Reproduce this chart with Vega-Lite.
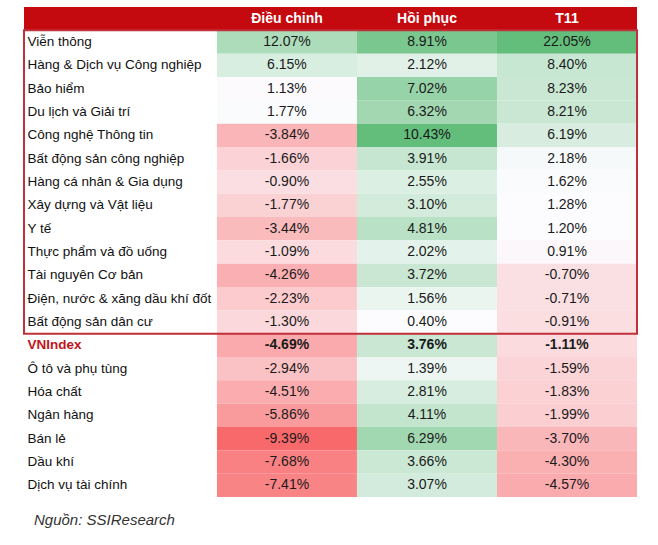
{
  "$schema": "https://vega.github.io/schema/vega-lite/v6.json",
  "width": 613,
  "height": 490,
  "autosize": {"type": "none"},
  "padding": {"left": 24, "top": 7, "right": 21, "bottom": 48},
  "background": "white",
  "title": {
    "text": "Nguồn: SSIResearch",
    "orient": "bottom",
    "anchor": "start",
    "offset": 16,
    "dx": 11,
    "font": "Liberation Sans",
    "fontSize": 15,
    "fontStyle": "italic",
    "fontWeight": "normal",
    "color": "#333333"
  },
  "data": {
    "values": [
      {"sector": "Viễn thông", "Điều chỉnh": 12.07, "Hồi phục": 8.91, "T11": 22.05},
      {"sector": "Hàng & Dịch vụ Công nghiệp", "Điều chỉnh": 6.15, "Hồi phục": 2.12, "T11": 8.40},
      {"sector": "Bảo hiểm", "Điều chỉnh": 1.13, "Hồi phục": 7.02, "T11": 8.23},
      {"sector": "Du lịch và Giải trí", "Điều chỉnh": 1.77, "Hồi phục": 6.32, "T11": 8.21},
      {"sector": "Công nghệ Thông tin", "Điều chỉnh": -3.84, "Hồi phục": 10.43, "T11": 6.19},
      {"sector": "Bất động sản công nghiệp", "Điều chỉnh": -1.66, "Hồi phục": 3.91, "T11": 2.18},
      {"sector": "Hàng cá nhân & Gia dụng", "Điều chỉnh": -0.90, "Hồi phục": 2.55, "T11": 1.62},
      {"sector": "Xây dựng và Vật liệu", "Điều chỉnh": -1.77, "Hồi phục": 3.10, "T11": 1.28},
      {"sector": "Y tế", "Điều chỉnh": -3.44, "Hồi phục": 4.81, "T11": 1.20},
      {"sector": "Thực phẩm và đồ uống", "Điều chỉnh": -1.09, "Hồi phục": 2.02, "T11": 0.91},
      {"sector": "Tài nguyên Cơ bản", "Điều chỉnh": -4.26, "Hồi phục": 3.72, "T11": -0.70},
      {"sector": "Điện, nước & xăng dầu khí đốt", "Điều chỉnh": -2.23, "Hồi phục": 1.56, "T11": -0.71},
      {"sector": "Bất động sản dân cư", "Điều chỉnh": -1.30, "Hồi phục": 0.40, "T11": -0.91},
      {"sector": "VNIndex", "Điều chỉnh": -4.69, "Hồi phục": 3.76, "T11": -1.11},
      {"sector": "Ô tô và phụ tùng", "Điều chỉnh": -2.94, "Hồi phục": 1.39, "T11": -1.59},
      {"sector": "Hóa chất", "Điều chỉnh": -4.51, "Hồi phục": 2.81, "T11": -1.83},
      {"sector": "Ngân hàng", "Điều chỉnh": -5.86, "Hồi phục": 4.11, "T11": -1.99},
      {"sector": "Bán lẻ", "Điều chỉnh": -9.39, "Hồi phục": 6.29, "T11": -3.70},
      {"sector": "Dầu khí", "Điều chỉnh": -7.68, "Hồi phục": 3.66, "T11": -4.30},
      {"sector": "Dịch vụ tài chính", "Điều chỉnh": -7.41, "Hồi phục": 3.07, "T11": -4.57}
    ]
  },
  "transform": [
    {"fold": ["Điều chỉnh", "Hồi phục", "T11"], "as": ["col", "v"]},
    {"calculate": "(datum.v < 0 ? '-' : '') + format(abs(datum.v), '.2f') + '%'", "as": "label"}
  ],
  "layer": [
    {
      "mark": {"type": "rect", "color": "#c40a0f"},
      "encoding": {
        "y": {
          "datum": "header",
          "type": "nominal",
          "scale": {
            "domain": ["header", "Viễn thông", "Hàng & Dịch vụ Công nghiệp", "Bảo hiểm", "Du lịch và Giải trí", "Công nghệ Thông tin", "Bất động sản công nghiệp", "Hàng cá nhân & Gia dụng", "Xây dựng và Vật liệu", "Y tế", "Thực phẩm và đồ uống", "Tài nguyên Cơ bản", "Điện, nước & xăng dầu khí đốt", "Bất động sản dân cư", "VNIndex", "Ô tô và phụ tùng", "Hóa chất", "Ngân hàng", "Bán lẻ", "Dầu khí", "Dịch vụ tài chính"],
            "paddingInner": 0,
            "paddingOuter": 0
          },
          "axis": {
            "labelExpr": "datum.value == 'header' ? '' : datum.value",
            "labelColor": {"condition": {"test": "datum.value == 'VNIndex'", "value": "#c0151b"}, "value": "#111111"},
            "labelFontWeight": {"condition": {"test": "datum.value == 'VNIndex'", "value": "bold"}, "value": "normal"}
          }
        }
      }
    },
    {
      "transform": [{"filter": "datum.col != 'Hồi phục'"}],
      "mark": {"type": "rect"},
      "encoding": {
        "x": {
          "field": "col",
          "type": "nominal",
          "sort": null,
          "scale": {"domain": ["Điều chỉnh", "Hồi phục", "T11"], "paddingInner": 0, "paddingOuter": 0.689, "align": 1},
          "axis": null
        },
        "y": {"field": "sector", "type": "nominal"},
        "color": {
          "field": "v",
          "type": "quantitative",
          "scale": {"domain": [-9.39, 1.3, 22.05], "range": ["#f8696b", "#fcfcff", "#63be7b"], "interpolate": "rgb"},
          "legend": null
        }
      }
    },
    {
      "transform": [{"filter": "datum.col == 'Hồi phục'"}],
      "mark": {"type": "rect"},
      "encoding": {
        "x": {"field": "col", "type": "nominal", "axis": null},
        "y": {"field": "sector", "type": "nominal"},
        "color": {
          "field": "v",
          "type": "quantitative",
          "scale": {"domain": [0.4, 10.43], "range": ["#fcfcff", "#63be7b"], "interpolate": "rgb"},
          "legend": null
        }
      }
    },
    {
      "data": {"values": [{"col": "Điều chỉnh"}, {"col": "Hồi phục"}, {"col": "T11"}]},
      "mark": {"type": "text", "color": "white", "font": "Liberation Sans", "fontSize": 14, "fontWeight": "bold"},
      "encoding": {
        "x": {"field": "col", "type": "nominal", "axis": null},
        "y": {"datum": "header", "type": "nominal"},
        "text": {"field": "col"}
      }
    },
    {
      "transform": [{"filter": "datum.sector != 'VNIndex'"}],
      "mark": {"type": "text", "color": "#1a1a1a", "font": "Liberation Sans", "fontSize": 14},
      "encoding": {
        "x": {"field": "col", "type": "nominal", "axis": null},
        "y": {"field": "sector", "type": "nominal"},
        "text": {"field": "label"}
      }
    },
    {
      "transform": [{"filter": "datum.sector == 'VNIndex'"}],
      "mark": {"type": "text", "color": "#1a1a1a", "font": "Liberation Sans", "fontSize": 14, "fontWeight": "bold"},
      "encoding": {
        "x": {"field": "col", "type": "nominal", "axis": null},
        "y": {"field": "sector", "type": "nominal"},
        "text": {"field": "label"}
      }
    },
    {
      "data": {"values": [{"top": "Viễn thông", "bottom": "Bất động sản dân cư"}]},
      "mark": {"type": "rect", "fill": null, "stroke": "#c0303a", "strokeWidth": 2},
      "encoding": {
        "y": {"field": "top", "type": "nominal", "bandPosition": 0},
        "y2": {"field": "bottom", "bandPosition": 1}
      }
    }
  ],
  "resolve": {"scale": {"color": "independent"}},
  "config": {
    "view": {"stroke": null},
    "axisY": {
      "title": null,
      "domain": false,
      "ticks": false,
      "grid": false,
      "zindex": 1,
      "labelAlign": "left",
      "labelPadding": -3,
      "labelLimit": 220,
      "labelFont": "Liberation Sans",
      "labelFontSize": 13.5
    }
  }
}
